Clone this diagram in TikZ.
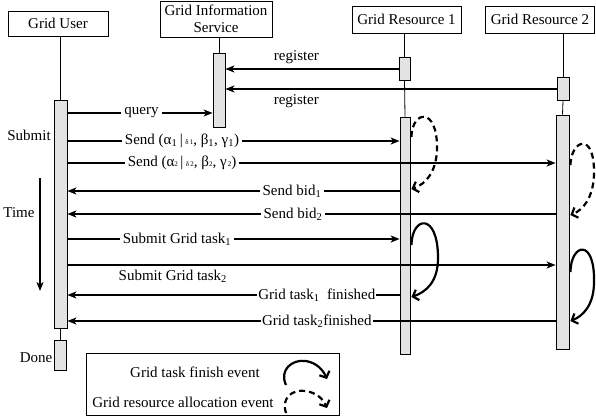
\documentclass[tikz,border=0pt]{standalone}
\usepackage{fontspec}
\setmainfont{Liberation Serif}
\usetikzlibrary{arrows.meta}
\begin{document}
\begin{tikzpicture}[x=1pt,y=-1pt,
  font=\fontsize{15}{17}\selectfont,
  hdr/.style={draw, line width=0.8pt, inner sep=0pt, align=center},
  actbar/.style={draw, line width=0.8pt, fill=gray!22, inner sep=0pt},
  life/.style={line width=0.8pt},
  msg/.style={line width=1.8pt, -{Stealth[length=9pt,width=7pt,inset=2.5pt]}},
  lbl/.style={fill=white, inner xsep=3pt, inner ysep=1pt},
  loopsolid/.style={line width=2.2pt, -{Straight Barb[length=5pt,width=11pt]}},
  loopdash/.style={loopsolid, dash pattern=on 6pt off 4pt},
  plain/.style={inner sep=0pt},
]
\useasboundingbox (0,0) rectangle (596,417);

% headers
\node[hdr, minimum width=100pt, minimum height=25pt] (user) at (58,23.5) {Grid User};
\node[hdr, minimum width=112pt, minimum height=36pt] (gis) at (216,19) {Grid Information\\Service};
\node[hdr, minimum width=109pt, minimum height=27pt] (gr1) at (406.5,19.5) {Grid Resource 1};
\node[hdr, minimum width=109pt, minimum height=27pt] (gr2) at (540,19.5) {Grid Resource 2};

% activation bars
\node[actbar, minimum width=13pt, minimum height=228pt] (ubar) at (60.5,214) {};
\node[actbar, minimum width=12pt, minimum height=30pt] (done) at (60.5,355) {};
\node[actbar, minimum width=12pt, minimum height=74pt] (gbar) at (219,90) {};
\node[actbar, minimum width=11pt, minimum height=23pt] (r1s) at (404.5,68.5) {};
\node[actbar, minimum width=10pt, minimum height=237pt] (r1bar) at (405,235.5) {};
\node[actbar, minimum width=12pt, minimum height=23pt] (r2s) at (563,88.5) {};
\node[actbar, minimum width=13pt, minimum height=234pt] (r2bar) at (562.5,232) {};

% lifelines
\draw[life] (ubar.north |- user.south) -- (ubar.north);
\draw[life] (ubar.south) -- (done.north);
\draw[life] (gbar.north |- gis.south) -- (gbar.north);
\draw[life] (r1s.north |- gr1.south) -- (r1s.north);
\draw[life] (r1s.south) -- (r1bar.north);
\draw[life] (r2s.north |- gr2.south) -- (r2s.north);
\draw[life] (r2s.south) -- (r2bar.north);

% message rows
\coordinate (m1) at (0,69);
\coordinate (m2) at (0,89);
\coordinate (m3) at (0,113);
\coordinate (m4) at (0,141);
\coordinate (m5) at (0,163);
\coordinate (m6) at (0,191);
\coordinate (m7) at (0,214);
\coordinate (m8) at (0,239);
\coordinate (m9) at (0,265);
\coordinate (m10) at (0,295);
\coordinate (m11) at (0,321);

\draw[msg] (r1s.west |- m1) -- node[pos=0.59, above=1pt] {register} (gbar.east |- m1);
\draw[msg] (r2s.west |- m2) -- node[pos=0.786, below=1pt] {register} (gbar.east |- m2);
\draw[msg] (ubar.east |- m3) -- node[lbl, pos=0.51] {query} (gbar.west |- m3);
\draw[msg] (ubar.east |- m4) -- node[lbl, pos=0.345] {Send (α\textsubscript{1}\,|\,{\scriptsize δ\,1}, β\textsubscript{1}, γ\textsubscript{1})} (r1bar.west |- m4);
\draw[msg] (ubar.east |- m5) -- node[lbl, pos=0.235] {Send (α{\scriptsize 2}\,|\,{\scriptsize δ\,2}, β{\scriptsize 2}, γ{\scriptsize\,2})} (r2bar.west |- m5);
\draw[msg] (r1bar.west |- m6) -- node[lbl, pos=0.324] {Send bid\textsubscript{1}} (ubar.east |- m6);
\draw[msg] (r2bar.west |- m7) -- node[lbl, pos=0.538] {Send bid\textsubscript{2}} (ubar.east |- m7);
\draw[msg] (ubar.east |- m8) -- node[lbl, pos=0.33] {Submit Grid task\textsubscript{1}} (r1bar.west |- m8);
\draw[msg] (ubar.east |- m9) -- node[pos=0.216, below=1pt] {Submit Grid task\textsubscript{2}} (r2bar.west |- m9);
\draw[msg] (r1bar.west |- m10) -- node[lbl, pos=0.249, inner xsep=1pt] {Grid task\textsubscript{1}\ \ finished} (ubar.east |- m10);
\draw[msg] (r2bar.west |- m11) -- node[lbl, pos=0.489, inner xsep=1pt] {Grid task\textsubscript{2}finished} (ubar.east |- m11);

% self loops
\draw[loopdash] ([xshift=1pt]r1bar.east |- 0,137) .. controls (412,110) and (438,106) .. (437,150) .. controls (436,172) and (426,184) .. ([xshift=1pt]r1bar.east |- 0,189);
\draw[loopdash] ([xshift=1pt]r2bar.east |- 0,165) .. controls (571,140) and (595,130) .. (594,175) .. controls (593,198) and (583,210) .. ([xshift=1pt]r2bar.east |- 0,215);
\draw[loopsolid] ([xshift=1pt]r1bar.east |- 0,245) .. controls (412,216) and (438,212) .. (438,258) .. controls (438,282) and (426,292) .. ([xshift=1pt]r1bar.east |- 0,297);
\draw[loopsolid] ([xshift=1pt]r2bar.east |- 0,272) .. controls (571,243) and (595,238) .. (594,282) .. controls (594,305) and (583,316) .. ([xshift=1pt]r2bar.east |- 0,321);

% time axis
\coordinate (t0) at (40,178);
\coordinate (t1) at (40,291);
\draw[msg] (t0) -- (t1);
\node (submit) at (29,135) {Submit};
\node (time) at (19,213) {Time};
\node (donel) at (36,358) {Done};

% legend
\node[draw, line width=0.8pt, minimum width=253pt, minimum height=62pt, inner sep=0pt] (legend) at (212.5,384) {};
\node (lg1) at (195,372) {Grid task finish event};
\node (lg2) at (183,402) {Grid resource allocation event};
\draw[loopsolid] (286,385) .. controls (279,370) and (292,359) .. (306,361) .. controls (317,363) and (323,370) .. (327,379);
\draw[loopdash] (286,413) .. controls (281,398) and (292,389) .. (306,391) .. controls (317,393) and (323,399) .. (327,408);
\end{tikzpicture}
\end{document}
